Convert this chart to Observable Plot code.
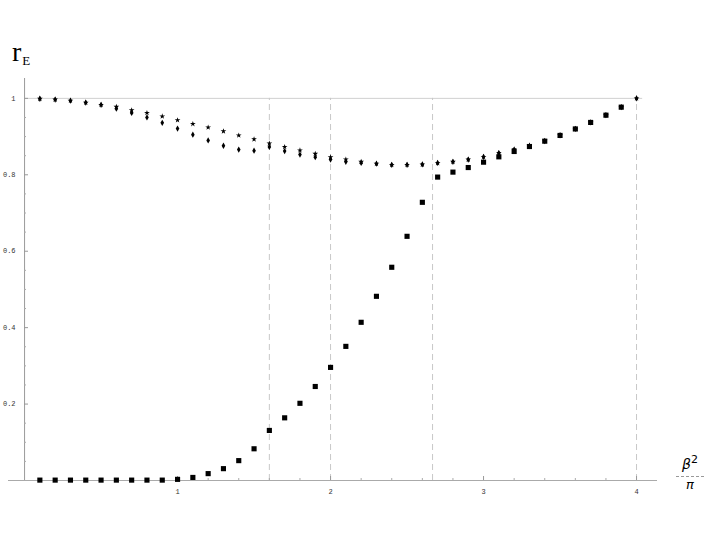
<!DOCTYPE html>
<html><head><meta charset="utf-8">
<script src="https://cdn.jsdelivr.net/npm/d3@7"></script>
<script src="https://cdn.jsdelivr.net/npm/@observablehq/plot@0.6"></script>
<style>
body{margin:0;background:#fff;}
#wrap{position:relative;width:705px;height:545px;overflow:hidden;}
#ttl{position:absolute;left:12px;top:40px;font-family:"Liberation Serif",serif;font-size:28px;line-height:24px;color:#000;}
#ttl sub{font-size:13px;vertical-align:-4px;margin-left:1px;}
#xl{position:absolute;left:676px;top:455px;width:28px;text-align:center;font-family:"DejaVu Sans",sans-serif;color:#000;}
#xl .num{font-size:14px;line-height:18px;border-bottom:1px dashed #999;padding-bottom:3px;}
#xl .num i{font-style:oblique;}
#xl .num sup{font-size:11px;vertical-align:6px;line-height:0;}
#xl .den{font-size:13px;line-height:16px;font-style:oblique;}
</style></head>
<body><div id="wrap"><div id="ttl">r<sub>E</sub></div><div id="xl"><div class="num"><i>β</i><sup>2</sup></div><div class="den">π</div></div></div>
<script>
const squareX = [0.1,0.2,0.3,0.4,0.5,0.6,0.7,0.8,0.9,1.0,1.1,1.2,1.3,1.4,1.5,1.6,1.7,1.8,1.9,2.0,2.1,2.2,2.3,2.4,2.5,2.6,2.7,2.8,2.9,3.0,3.1,3.2,3.3,3.4,3.5,3.6,3.7,3.8,3.9];
const squareY = [0.001,0.001,0.001,0.001,0.001,0.001,0.001,0.001,0.001,0.003,0.008,0.018,0.031,0.052,0.083,0.131,0.164,0.202,0.246,0.296,0.351,0.414,0.482,0.558,0.639,0.728,0.794,0.807,0.819,0.833,0.847,0.861,0.874,0.888,0.903,0.920,0.937,0.956,0.977];
const starX = [0.1,0.2,0.3,0.4,0.5,0.6,0.7,0.8,0.9,1.0,1.1,1.2,1.3,1.4,1.5,1.6,1.7,1.8,1.9,2.0,2.1,2.2,2.3,2.4,2.5,2.6,2.7,2.8,2.9,3.0,3.1,3.2,3.3,3.4,3.5,3.6,3.7,3.8,3.9,4.0];
const starY = [0.999,0.997,0.994,0.989,0.983,0.978,0.969,0.962,0.953,0.943,0.933,0.924,0.914,0.903,0.893,0.882,0.873,0.864,0.855,0.846,0.840,0.834,0.829,0.826,0.826,0.827,0.831,0.834,0.840,0.847,0.857,0.867,0.877,0.889,0.904,0.920,0.937,0.956,0.977,1.000];
const diamondY = [0.999,0.997,0.994,0.989,0.983,0.973,0.962,0.950,0.936,0.921,0.905,0.890,0.876,0.866,0.863,0.873,0.862,0.853,0.846,0.840,0.834,0.831,0.829,0.826,0.826,0.827,0.831,0.834,0.840,0.847,0.857,0.865,0.875,0.888,0.903,0.920,0.937,0.956,0.977,1.000];
const dashX = [1.6, 2, 8/3, 4];
const xMajor = [1,2,3,4];
const xMinor = [0.2,0.4,0.6,0.8,1.2,1.4,1.6,1.8,2.2,2.4,2.6,2.8,3.2,3.4,3.6,3.8];
const yMajor = [0.2,0.4,0.6,0.8,1];
const yLabels = ["0.2","0.4","0.6","0.8","1"];
const yMinor = [0.05,0.1,0.15,0.25,0.3,0.35,0.45,0.5,0.55,0.65,0.7,0.75,0.85,0.9,0.95];

const squares = squareX.map((x,i)=>({x, y: squareY[i]}));
const stars = starX.map((x,i)=>({x, y: starY[i]}));
const diamonds = starX.map((x,i)=>({x, y: diamondY[i]}));
const yTickData = yMajor.map((y,i)=>({y, label: yLabels[i]}));

const W = 705, H = 545, mL = 8, mR = 48, mT = 78, mB = 65;
const frameW = W - mL - mR, frameH = H - mT - mB;
const xDom = [-0.105, 4.137];
const axisOff = Math.round((0 - xDom[0]) / (xDom[1]-xDom[0]) * frameW);

const chart = Plot.plot({
  width: W, height: H, marginLeft: mL, marginRight: mR, marginTop: mT, marginBottom: mB,
  x: {domain: xDom, axis: null},
  y: {domain: [0, 1.052], axis: null},
  style: {background: "white", fontFamily: "Liberation Mono, monospace", fontSize: "7px", color: "#333"},
  marks: [
    Plot.ruleY([1], {x1: 0, x2: 4.04, stroke: "#d0d0d0", strokeOpacity: 1}),
    Plot.ruleX(dashX, {x: d=>d, y1: 0, y2: 1, stroke: "#c8c8c8", strokeOpacity: 1, strokeDasharray: "6,4"}),
    Plot.ruleX([0], {stroke: "#999", strokeOpacity: 1}),
    Plot.ruleY([0], {stroke: "#aaa", strokeOpacity: 1}),
    Plot.tickX(xMajor, {x: d=>d, insetTop: frameH - 4, stroke: "#999", strokeOpacity: 1}),
    Plot.tickX(xMinor, {x: d=>d, insetTop: frameH - 2, stroke: "#aaa", strokeOpacity: 1}),
    Plot.tickY(yMajor, {y: d=>d, insetLeft: axisOff, insetRight: frameW - axisOff - 4, stroke: "#999", strokeOpacity: 1}),
    Plot.tickY(yMinor, {y: d=>d, insetLeft: axisOff, insetRight: frameW - axisOff - 2, stroke: "#aaa", strokeOpacity: 1}),
    Plot.text(xMajor, {x: d=>d, y: 0, text: d=>String(d), dy: 11, fill: "#333"}),
    Plot.text(yTickData, {x: 0, y: "y", text: "label", textAnchor: "end", dx: -9, fill: "#333"}),
    Plot.dot(diamonds, {x: "x", y: "y", symbol: "diamond", r: 1.9, fill: "black", stroke: "none"}),
    Plot.dot(stars, {x: "x", y: "y", symbol: "star", r: 1.8, fill: "black", stroke: "none"}),
    Plot.dot(squares, {x: "x", y: "y", symbol: "square", r: 2.9, fill: "black", stroke: "none"})
  ]
});
document.getElementById("wrap").prepend(chart);
</script>
</body></html>
